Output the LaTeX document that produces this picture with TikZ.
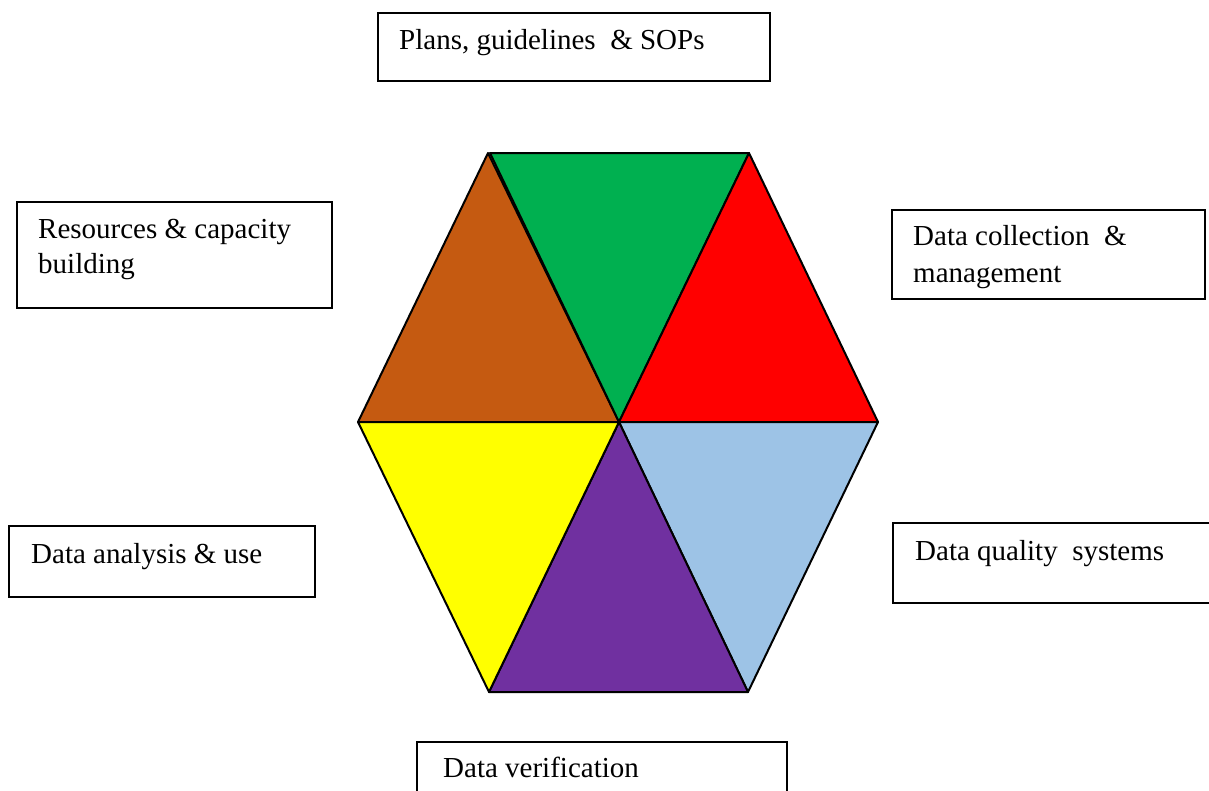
\documentclass[tikz,border=0pt]{standalone}
\usepackage{fontspec}
\setmainfont{Liberation Serif}
\definecolor{cbrown}{HTML}{C55A11}
\definecolor{cgreen}{HTML}{00B050}
\definecolor{cred}{HTML}{FF0000}
\definecolor{cblue}{HTML}{9DC3E6}
\definecolor{cpurple}{HTML}{7030A0}
\definecolor{cyellow}{HTML}{FFFF00}
\begin{document}
\begin{tikzpicture}[x=1pt,y=-1pt,
  tri/.style={draw=black,line width=2pt,line join=round},
  box/.style={draw=black,line width=2pt,rectangle,inner sep=0pt,fill=white},
  lbl/.style={anchor=base west,inner sep=0pt,font=\fontsize{29}{35}\selectfont}]
\useasboundingbox (0,0) rectangle (1209,790);
% hexagon vertices
\coordinate (TLb) at (488,153);
\coordinate (TL) at (490,153);
\coordinate (TR) at (749,153);
\coordinate (R) at (878,422);
\coordinate (BR) at (748,692);
\coordinate (BL) at (489,692);
\coordinate (L) at (358,422);
\coordinate (C) at (619,422);
% triangles
\filldraw[tri,fill=cbrown] (TLb) -- (L) -- (C) -- cycle;
\filldraw[tri,fill=cgreen] (TL) -- (TR) -- (C) -- cycle;
\filldraw[tri,fill=cred] (TR) -- (R) -- (C) -- cycle;
\filldraw[tri,fill=cblue] (C) -- (R) -- (BR) -- cycle;
\filldraw[tri,fill=cpurple] (C) -- (BR) -- (BL) -- cycle;
\filldraw[tri,fill=cyellow] (L) -- (C) -- (BL) -- cycle;
% boxes
\node[box,minimum width=392pt,minimum height=68pt] (plans) at (574,47) {};
\node[lbl] (plansT) at (399,49) {Plans, guidelines\ \ \& SOPs};
\node[box,minimum width=315pt,minimum height=106pt] (res) at (174.5,255) {};
\node[lbl] (resT1) at (38,238) {Resources \& capacity};
\node[lbl] (resT2) at (38,273) {building};
\node[box,minimum width=313pt,minimum height=89pt] (coll) at (1048.5,254.5) {};
\node[lbl] (collT1) at (913,245) {Data collection\ \ \&};
\node[lbl] (collT2) at (913,282) {management};
\node[box,minimum width=306pt,minimum height=71pt] (ana) at (162,561.5) {};
\node[lbl] (anaT) at (31,563) {Data analysis \& use};
\node[box,minimum width=320pt,minimum height=80pt] (qual) at (1053,563) {};
\node[lbl] (qualT) at (915,560) {Data quality\ \ systems};
\node[box,minimum width=370pt,minimum height=80pt] (ver) at (602,782) {};
\node[lbl] (verT) at (443,777) {Data verification};
\end{tikzpicture}
\end{document}
